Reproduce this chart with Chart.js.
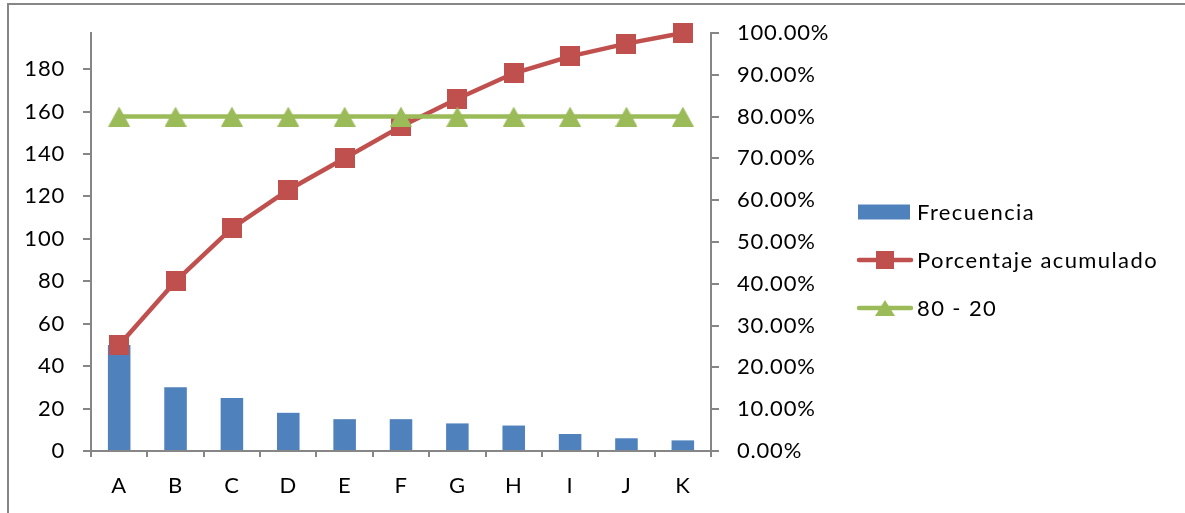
<!DOCTYPE html>
<html>
<head>
<meta charset="utf-8">
<script src="https://cdn.jsdelivr.net/npm/chart.js@4/dist/chart.umd.min.js"></script>
<style>
  html, body { margin: 0; padding: 0; background: #fff; }
  canvas { display: block; }
</style>
</head>
<body>
<canvas id="pareto" width="1185" height="513"></canvas>
<script>
// Categorías y series del diagrama de Pareto
const categorias = ['A', 'B', 'C', 'D', 'E', 'F', 'G', 'H', 'I', 'J', 'K'];
const frecuencia = [50, 30, 25, 18, 15, 15, 13, 12, 8, 6, 5];
const porcentajeAcumulado = [0.2538, 0.4061, 0.5330, 0.6244, 0.7005, 0.7766, 0.8426, 0.9036, 0.9442, 0.9746, 1.0];
const linea8020 = [0.8, 0.8, 0.8, 0.8, 0.8, 0.8, 0.8, 0.8, 0.8, 0.8, 0.8];
const etiquetasSeries = ['Frecuencia', 'Porcentaje acumulado', '80 - 20'];

const AZUL = '#4F81BD', ROJO = '#C0504D', VERDE = '#9BBB59', GRIS = '#868686';
const FUENTE = 'Lato, "Open Sans", sans-serif';
const TAM = 22;

// Marcadores estilo hoja de cálculo: cuadrado y triángulo centrados en el punto
function marcadorCuadrado(lado, color) {
  const c = document.createElement('canvas');
  c.width = lado; c.height = lado;
  const g = c.getContext('2d');
  g.fillStyle = color;
  g.fillRect(0, 0, lado, lado);
  return c;
}
function marcadorTriangulo(ancho, alto, color) {
  const c = document.createElement('canvas');
  c.width = ancho; c.height = alto;
  const g = c.getContext('2d');
  g.fillStyle = color;
  g.beginPath();
  g.moveTo(ancho / 2, 0);
  g.lineTo(ancho, alto);
  g.lineTo(0, alto);
  g.closePath();
  g.fill();
  return c;
}
const cuadrado = marcadorCuadrado(20, ROJO);
const triangulo = marcadorTriangulo(22, 20, VERDE);
const cuadradoLeyenda = marcadorCuadrado(18, ROJO);
const trianguloLeyenda = marcadorTriangulo(20, 16, VERDE);

const totalFrecuencia = frecuencia.reduce((a, b) => a + b, 0);

// Marco exterior del gráfico (solo visibles borde superior e izquierdo)
const marco = {
  id: 'marco',
  beforeDraw(chart) {
    const ctx = chart.ctx;
    ctx.save();
    ctx.fillStyle = '#fff';
    ctx.fillRect(0, 0, chart.width, chart.height);
    ctx.strokeStyle = GRIS;
    ctx.lineWidth = 2;
    ctx.beginPath();
    ctx.moveTo(8, chart.height + 2);
    ctx.lineTo(8, 4);
    ctx.lineTo(chart.width + 2, 4);
    ctx.stroke();
    ctx.restore();
    // espaciado de letras para los rótulos de los ejes
    ctx.letterSpacing = '0.8px';
  }
};

// Leyenda a la derecha con muestra de línea y marcador
const leyenda = {
  id: 'leyendaPareto',
  afterDraw(chart) {
    const ctx = chart.ctx;
    const x0 = 858, xTexto = 917;
    const filas = [212, 260, 308];
    ctx.save();
    ctx.font = TAM + 'px ' + FUENTE;
    ctx.letterSpacing = '1.4px';
    ctx.textBaseline = 'middle';
    ctx.textAlign = 'left';

    // Frecuencia: rectángulo
    ctx.fillStyle = chart.data.datasets[0].backgroundColor;
    ctx.fillRect(x0, filas[0] - 7.5, 52, 15);

    // Series de línea
    [[1, cuadradoLeyenda], [2, trianguloLeyenda]].forEach(([i, img]) => {
      const ds = chart.data.datasets[i];
      const y = filas[i];
      ctx.strokeStyle = ds.borderColor;
      ctx.lineWidth = 4.5;
      ctx.lineCap = 'round';
      ctx.beginPath();
      ctx.moveTo(x0 + 1, y);
      ctx.lineTo(x0 + 53, y);
      ctx.stroke();
      ctx.drawImage(img, x0 + 27 - img.width / 2, y - img.height / 2);
    });

    ctx.fillStyle = '#000';
    chart.data.datasets.forEach((ds, i) => {
      ctx.fillText(ds.label, xTexto, filas[i] + 1);
    });
    ctx.restore();
  }
};

Chart.defaults.font.family = FUENTE;
Chart.defaults.font.size = TAM;
Chart.defaults.color = '#000';

new Chart(document.getElementById('pareto'), {
  type: 'bar',
  data: {
    labels: categorias,
    datasets: [
      {
        type: 'bar',
        label: etiquetasSeries[0],
        data: frecuencia,
        backgroundColor: AZUL,
        yAxisID: 'y',
        categoryPercentage: 1,
        barPercentage: 0.4,
        order: 3
      },
      {
        type: 'line',
        label: etiquetasSeries[1],
        data: porcentajeAcumulado,
        borderColor: ROJO,
        backgroundColor: ROJO,
        borderWidth: 4.5,
        pointStyle: cuadrado,
        tension: 0,
        clip: false,
        yAxisID: 'y1',
        order: 2
      },
      {
        type: 'line',
        label: etiquetasSeries[2],
        data: linea8020,
        borderColor: VERDE,
        backgroundColor: VERDE,
        borderWidth: 4.5,
        pointStyle: triangulo,
        tension: 0,
        clip: false,
        yAxisID: 'y1',
        order: 1
      }
    ]
  },
  options: {
    responsive: false,
    animation: false,
    devicePixelRatio: 1,
    layout: { padding: { top: 33, left: 0, right: 0, bottom: 0 } },
    plugins: {
      legend: { display: false },
      tooltip: { enabled: false }
    },
    scales: {
      x: {
        offset: true,
        grid: {
          offset: true,
          drawOnChartArea: false,
          drawTicks: true,
          tickLength: 6,
          color: GRIS,
          lineWidth: 2
        },
        border: { display: true, color: GRIS, width: 2 },
        ticks: { padding: 16 },
        afterFit(scale) { scale.height = 62; }
      },
      y: {
        position: 'left',
        min: 0,
        max: totalFrecuencia,
        ticks: { stepSize: 20, padding: 18 },
        afterBuildTicks(scale) {
          scale.ticks = scale.ticks.filter(t => t.value % 20 === 0);
        },
        grid: {
          drawOnChartArea: false,
          drawTicks: true,
          tickLength: 8,
          color: GRIS,
          lineWidth: 2
        },
        border: { display: true, color: GRIS, width: 2 },
        afterFit(scale) { scale.width = 91; }
      },
      y1: {
        position: 'right',
        min: 0,
        max: 1,
        ticks: {
          stepSize: 0.1,
          padding: 18,
          callback: v => (v * 100).toFixed(2) + '%'
        },
        grid: {
          drawOnChartArea: false,
          drawTicks: true,
          tickLength: 8,
          color: GRIS,
          lineWidth: 2
        },
        border: { display: true, color: GRIS, width: 2 },
        afterFit(scale) { scale.width = 474; }
      }
    }
  },
  plugins: [marco, leyenda]
});
</script>
</body>
</html>
